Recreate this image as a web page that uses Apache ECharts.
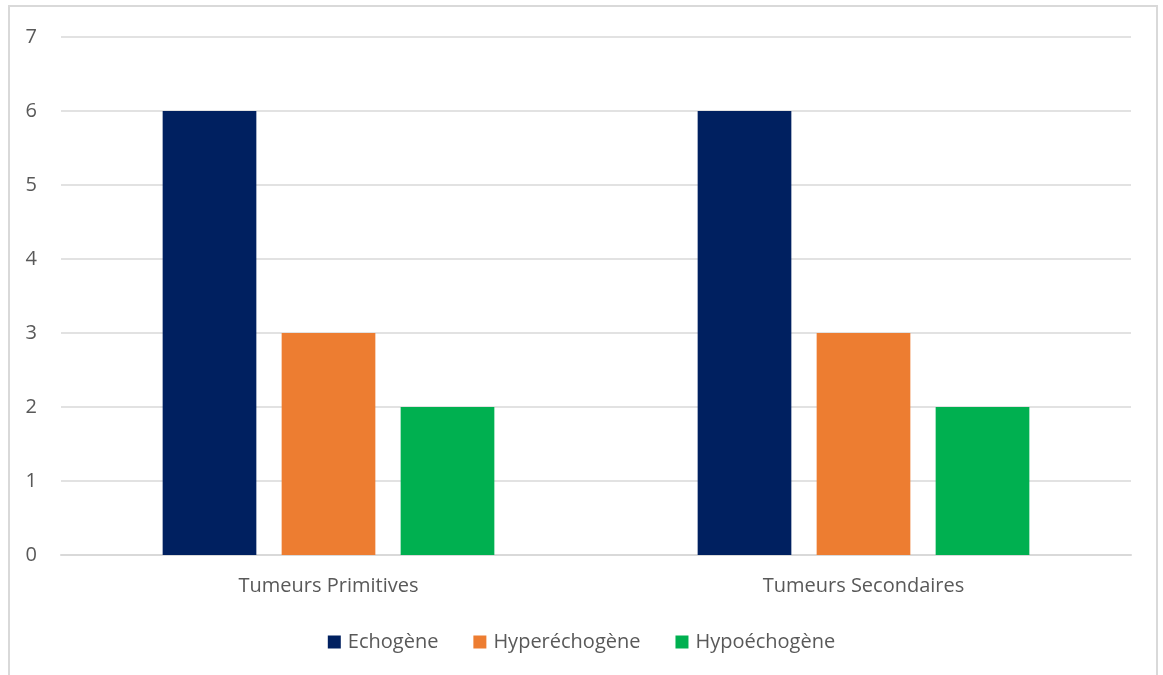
<!DOCTYPE html>
<html><head><meta charset="utf-8">
<script src="https://cdn.jsdelivr.net/npm/echarts@6/dist/echarts.min.js"></script>
<style>
html,body{margin:0;padding:0;background:#fff;overflow:hidden}
#frame{position:absolute;left:8px;top:5px;width:1150px;height:700px;border:2px solid #d9d9d9;box-sizing:border-box}
#c{position:absolute;left:0;top:0;width:1163px;height:675px}
</style></head>
<body>
<div id="frame"></div>
<div id="c"></div>
<script>
const categories = ['Tumeurs Primitives', 'Tumeurs Secondaires'];
const seriesNames = ['Echogène', 'Hyperéchogène', 'Hypoéchogène'];
const echogene = [6, 6];
const hyperechogene = [3, 3];
const hypoechogene = [2, 2];
const colors = ['#002060', '#ED7D31', '#00B050'];
const values = [echogene, hyperechogene, hypoechogene];

const chart = echarts.init(document.getElementById('c'), null, {renderer: 'canvas'});
const font = 'Open Sans';
chart.setOption({
  animation: false,
  textStyle: {fontFamily: font},
  grid: {left: 61, right: 32, top: 37, bottom: 120, containLabel: false},
  legend: {
    top: 627, left: 'center', itemWidth: 13, itemHeight: 13, itemGap: 35,
    icon: 'rect',
    textStyle: {color: '#595959', fontSize: 20, fontFamily: font, padding: [0, 0, 0, 2]},
    data: seriesNames
  },
  xAxis: {
    type: 'category', data: categories,
    axisLine: {lineStyle: {color: '#d9d9d9', width: 2}},
    axisTick: {show: false},
    axisLabel: {color: '#595959', fontSize: 20, margin: 21, fontFamily: font}
  },
  yAxis: {
    type: 'value', min: 0, max: 7, interval: 1,
    axisLine: {show: false}, axisTick: {show: false},
    splitLine: {lineStyle: {color: '#d9d9d9', width: 1.5}},
    axisLabel: {color: '#595959', fontSize: 20, margin: 24, fontFamily: font}
  },
  series: seriesNames.map((n, i) => ({
    name: n, type: 'bar', data: values[i],
    itemStyle: {color: colors[i]},
    barGap: '27%', barCategoryGap: '38%'
  }))
});
</script>
</body></html>
